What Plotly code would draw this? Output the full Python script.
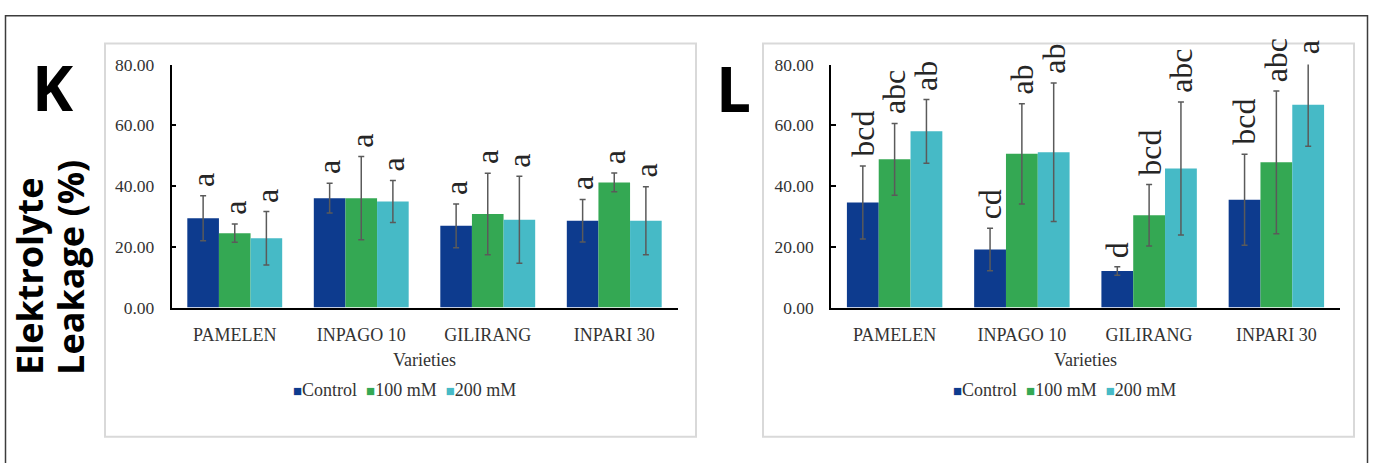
import plotly.graph_objects as go

# ---- data -------------------------------------------------------------
varieties = ["PAMELEN", "INPAGO 10", "GILIRANG", "INPARI 30"]
treatments = ["Control", "100 mM", "200 mM"]

# Panel K
k_control = [29.4, 36.0, 26.9, 28.6]
k_control_err = [7.4, 4.9, 7.2, 7.0]
k_100 = [24.5, 36.0, 30.8, 41.2]
k_100_err = [3.0, 13.7, 13.4, 3.1]
k_200 = [22.8, 34.9, 28.9, 28.6]
k_200_err = [8.8, 6.9, 14.3, 11.2]
k_letters_control = ["a", "a", "a", "a"]
k_letters_100 = ["a", "a", "a", "a"]
k_letters_200 = ["a", "a", "a", "a"]

# Panel L
l_control = [34.6, 19.1, 12.0, 35.5]
l_control_err = [12.0, 7.0, 1.4, 15.0]
l_100 = [48.8, 50.6, 30.4, 47.8]
l_100_err = [11.8, 16.5, 10.1, 23.5]
l_200 = [58.0, 51.1, 45.8, 66.8]
l_200_err = [10.5, 22.8, 21.9, 13.7]
l_letters_control = ["bcd", "cd", "d", "bcd"]
l_letters_100 = ["abc", "ab", "bcd", "abc"]
l_letters_200 = ["ab", "ab", "abc", "a"]

y_ticks = [0, 20, 40, 60, 80]
y_max = 80

# ---- styling ----------------------------------------------------------
W, H = 1373, 463
colors = ["#0d3b8e", "#34a853", "#46bac6"]
serif = "Liberation Serif, Times New Roman, serif"
sans = "Open Sans, Lato, sans-serif"
text_col = "#333333"
err_col = "#5a5a5a"


def px(x):
    return x / W


def py(y):
    return 1 - y / H


panels = [
    dict(name="K", xa="x", ya="y",
         series=[(k_control, k_control_err, k_letters_control),
                 (k_100, k_100_err, k_letters_100),
                 (k_200, k_200_err, k_letters_200)],
         plot_x=(171.5, 677.5), box=(105, 696), letter_pos=(52.5, 80.5),
         legend_x=404),
    dict(name="L", xa="x2", ya="y2",
         series=[(l_control, l_control_err, l_letters_control),
                 (l_100, l_100_err, l_letters_100),
                 (l_200, l_200_err, l_letters_200)],
         plot_x=(831, 1340), box=(763, 1354), letter_pos=(733, 81),
         legend_x=1064),
]

plot_top, plot_bottom = 57, 311
px_per_unit = (plot_bottom - plot_top) / y_max
bargap = 0.25
bar_w = (1 - bargap) / len(treatments)

fig = go.Figure()
annotations = []
shapes = []

for p in panels:
    for j, (vals, errs, letters) in enumerate(p["series"]):
        fig.add_trace(go.Bar(
            x=varieties, y=vals, name=treatments[j],
            marker=dict(color=colors[j], line=dict(width=0)),
            error_y=dict(type="data", array=errs, visible=True,
                         color=err_col, thickness=1.5, width=3),
            xaxis=p["xa"], yaxis=p["ya"], showlegend=False,
        ))
        offset = (j - (len(treatments) - 1) / 2) * bar_w
        for i, (v, e, t) in enumerate(zip(vals, errs, letters)):
            top = v + e
            anchor = min(top, y_max)  # keep the anchor inside the axis range
            annotations.append(dict(
                x=i + offset, y=anchor, xref=p["xa"], yref=p["ya"],
                text=t, showarrow=False, textangle=-90,
                xanchor="center", yanchor="bottom",
                yshift=7 + (top - anchor) * px_per_unit,
                font=dict(family=serif, size=32, color="#262626"),
            ))

    # panel frame
    bx0, bx1 = p["box"]
    shapes.append(dict(type="rect", xref="paper", yref="paper",
                       x0=px(bx0), x1=px(bx1), y0=py(446), y1=py(35),
                       line=dict(color="#d9d9d9", width=2), layer="below"))

    # panel letter
    lx, ly = p["letter_pos"]
    annotations.append(dict(x=px(lx), y=py(ly), xref="paper", yref="paper",
                            text=f"<b>{p['name']}</b>", showarrow=False,
                            xanchor="center", yanchor="middle",
                            font=dict(family=sans, size=62, color="black")))

    # axis title
    cx = (p["plot_x"][0] + p["plot_x"][1]) / 2
    annotations.append(dict(x=px(cx), y=py(366), xref="paper", yref="paper",
                            text="Varieties", showarrow=False,
                            xanchor="center", yanchor="middle",
                            font=dict(family=serif, size=18, color=text_col)))

    # legend row
    def sq(c):
        return f'<span style="color:{c};font-size:15px">■</span>'
    legend_text = "  ".join(f"{sq(colors[j])}{treatments[j]}" for j in range(len(treatments)))
    annotations.append(dict(x=px(p["legend_x"]), y=py(397), xref="paper", yref="paper",
                            text=legend_text, showarrow=False,
                            xanchor="center", yanchor="middle",
                            font=dict(family=serif, size=18, color=text_col)))

# shared y-axis title on the left
annotations.append(dict(x=px(30), y=py(384), xref="paper", yref="paper",
                        text="<b>Elektrolyte</b>", showarrow=False, textangle=-90,
                        xanchor="center", yanchor="bottom",
                        font=dict(family=sans, size=36, color="black")))
annotations.append(dict(x=px(71), y=py(384), xref="paper", yref="paper",
                        text="<b>Leakage (%)</b>", showarrow=False, textangle=-90,
                        xanchor="center", yanchor="bottom",
                        font=dict(family=sans, size=36, color="black")))

# outer frame (open at the bottom edge)
shapes.append(dict(type="rect", xref="paper", yref="paper",
                   x0=px(5.5), x1=px(1367.5), y0=-0.05, y1=py(6),
                   line=dict(color="#3c3c3c", width=1.5), layer="below"))

xaxis_common = dict(type="category", categoryorder="array", categoryarray=varieties,
                    showline=True, linecolor="black", linewidth=2,
                    ticks="", showgrid=False, zeroline=False,
                    tickfont=dict(family=serif, size=18, color=text_col),
                    ticklabelstandoff=10)
yaxis_common = dict(range=[0, y_max], tickvals=y_ticks, tickformat=".2f",
                    showline=True, linecolor="black", linewidth=1.5,
                    ticks="inside", ticklen=5, tickcolor="black", tickwidth=1.5,
                    showgrid=False, zeroline=False,
                    tickfont=dict(family=serif, size=17.5, color=text_col),
                    ticklabelstandoff=12)

y_dom = [py(plot_bottom), py(plot_top)]
fig.update_layout(
    width=W, height=H,
    margin=dict(l=0, r=0, t=0, b=0),
    paper_bgcolor="white", plot_bgcolor="white",
    barmode="group", bargap=bargap, bargroupgap=0,
    xaxis=dict(domain=[px(panels[0]["plot_x"][0]), px(panels[0]["plot_x"][1])],
               anchor="y", **xaxis_common),
    yaxis=dict(domain=y_dom, anchor="x", **yaxis_common),
    xaxis2=dict(domain=[px(panels[1]["plot_x"][0]), px(panels[1]["plot_x"][1])],
                anchor="y2", **xaxis_common),
    yaxis2=dict(domain=y_dom, anchor="x2", **yaxis_common),
    annotations=annotations,
    shapes=shapes,
    showlegend=False,
)

fig.write_html("out.html")
